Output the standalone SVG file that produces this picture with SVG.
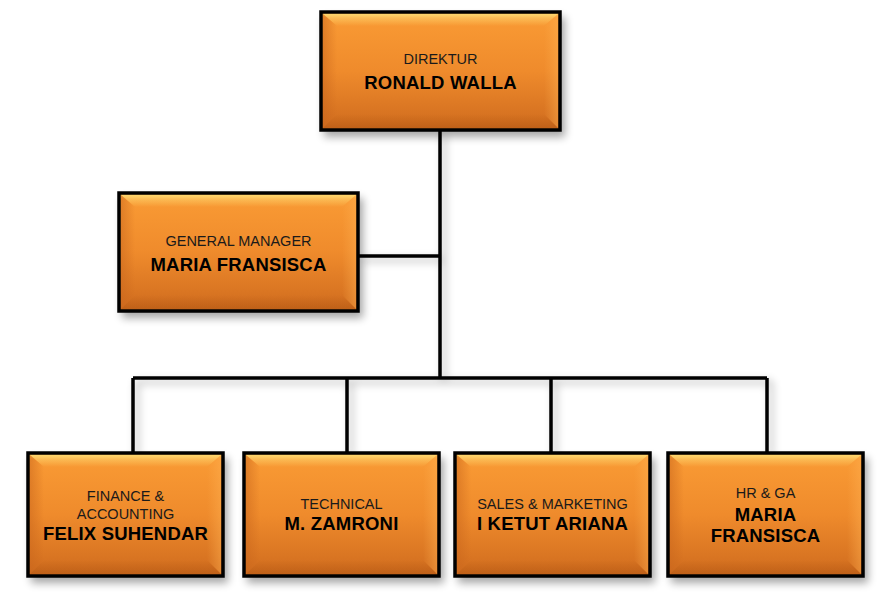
<svg xmlns="http://www.w3.org/2000/svg" width="887" height="601" viewBox="0 0 887 601">
<defs>
<linearGradient id="fill" x1="0" y1="0" x2="0" y2="1">
<stop offset="0" stop-color="#fdc85a"/>
<stop offset="0.05" stop-color="#f99a34"/>
<stop offset="0.5" stop-color="#ef8b2c"/>
<stop offset="1" stop-color="#cf6b1e"/>
</linearGradient>
<linearGradient id="gl" x1="0" y1="0" x2="1" y2="0">
<stop offset="0" stop-color="#c8651c" stop-opacity="0.5"/>
<stop offset="1" stop-color="#c8651c" stop-opacity="0"/>
</linearGradient>
<linearGradient id="gr" x1="1" y1="0" x2="0" y2="0">
<stop offset="0" stop-color="#ffb050" stop-opacity="0.45"/>
<stop offset="1" stop-color="#ffb050" stop-opacity="0"/>
</linearGradient>
<linearGradient id="gt" x1="0" y1="0" x2="0" y2="1">
<stop offset="0" stop-color="#ffe27a" stop-opacity="0.7"/>
<stop offset="1" stop-color="#ffe27a" stop-opacity="0"/>
</linearGradient>
<linearGradient id="gb" x1="0" y1="1" x2="0" y2="0">
<stop offset="0" stop-color="#a8500f" stop-opacity="0.4"/>
<stop offset="1" stop-color="#a8500f" stop-opacity="0"/>
</linearGradient>
<filter id="sh" x="-10%" y="-10%" width="125%" height="135%">
<feGaussianBlur stdDeviation="4"/>
</filter>
<style>
.box{fill:url(#fill);stroke:#000;stroke-width:3.5}
.shadow{fill:#000;opacity:0.35;filter:url(#sh)}
.bev-top{fill:url(#gt)}
.bev-l{fill:url(#gl)}
.bev-r{fill:url(#gr)}
.bev-b{fill:url(#gb)}
.lbl{font-family:"Liberation Sans","DejaVu Sans",sans-serif;font-size:14.5px;fill:#1a1a1a;text-anchor:middle}
.nm{font-family:"Liberation Sans","DejaVu Sans",sans-serif;font-size:18.5px;font-weight:bold;fill:#000;text-anchor:middle;letter-spacing:0.2px}
.ln{fill:none;stroke:#000;stroke-width:3.5}
.lnsh{fill:none;stroke:#000;stroke-width:4;opacity:0.25;filter:url(#sh)}
</style>
</defs>
<rect width="887" height="601" fill="#fff"/>

<g id="connectors">
<path class="lnsh" d="M444 136V382M363 260H444M137 382H771M137 382V456M351 382V456M555 382V456M771 382V456"/>
<path class="ln" d="M440 131V378M359 256H440M133 378H767M133 378V452M347 378V452M551 378V452M767 378V452"/>
</g>

<g id="direktur">
<rect class="shadow" x="324" y="17" width="241" height="120"/>
<rect class="box" x="321" y="12" width="239" height="118"/>
<polygon class="bev-top" points="323,14 558,14 544,26 337,26"/>
<polygon class="bev-l" points="323,14 337,26 337,114 323,128"/>
<polygon class="bev-r" points="558,14 544,26 544,114 558,128"/>
<polygon class="bev-b" points="323,128 337,114 544,114 558,128"/>
<text class="lbl" x="440.5" y="64">DIREKTUR</text>
<text class="nm" x="440.5" y="89">RONALD WALLA</text>
</g>

<g id="gm">
<rect class="shadow" x="122" y="198" width="241" height="120"/>
<rect class="box" x="119" y="193" width="239" height="118"/>
<polygon class="bev-top" points="121,195 356,195 342,207 135,207"/>
<polygon class="bev-l" points="121,195 135,207 135,295 121,309"/>
<polygon class="bev-r" points="356,195 342,207 342,295 356,309"/>
<polygon class="bev-b" points="121,309 135,295 342,295 356,309"/>
<text class="lbl" x="238.5" y="246">GENERAL MANAGER</text>
<text class="nm" x="238.5" y="271">MARIA FRANSISCA</text>
</g>

<g id="finance">
<rect class="shadow" x="31" y="458" width="197" height="125"/>
<rect class="box" x="28" y="453" width="195" height="123"/>
<polygon class="bev-top" points="30,455 221,455 207,467 44,467"/>
<polygon class="bev-l" points="30,455 44,467 44,560 30,574"/>
<polygon class="bev-r" points="221,455 207,467 207,560 221,574"/>
<polygon class="bev-b" points="30,574 44,560 207,560 221,574"/>
<text class="lbl" x="125.5" y="501">FINANCE &amp;</text>
<text class="lbl" x="125.5" y="519">ACCOUNTING</text>
<text class="nm" x="125.5" y="540">FELIX SUHENDAR</text>
</g>

<g id="technical">
<rect class="shadow" x="247" y="458" width="197" height="125"/>
<rect class="box" x="244" y="453" width="195" height="123"/>
<polygon class="bev-top" points="246,455 437,455 423,467 260,467"/>
<polygon class="bev-l" points="246,455 260,467 260,560 246,574"/>
<polygon class="bev-r" points="437,455 423,467 423,560 437,574"/>
<polygon class="bev-b" points="246,574 260,560 423,560 437,574"/>
<text class="lbl" x="341.5" y="509">TECHNICAL</text>
<text class="nm" x="341.5" y="530">M. ZAMRONI</text>
</g>

<g id="sales">
<rect class="shadow" x="458" y="458" width="197" height="125"/>
<rect class="box" x="455" y="453" width="195" height="123"/>
<polygon class="bev-top" points="457,455 648,455 634,467 471,467"/>
<polygon class="bev-l" points="457,455 471,467 471,560 457,574"/>
<polygon class="bev-r" points="648,455 634,467 634,560 648,574"/>
<polygon class="bev-b" points="457,574 471,560 634,560 648,574"/>
<text class="lbl" x="552.5" y="509">SALES &amp; MARKETING</text>
<text class="nm" x="552.5" y="530">I KETUT ARIANA</text>
</g>

<g id="hrga">
<rect class="shadow" x="671" y="458" width="197" height="125"/>
<rect class="box" x="668" y="453" width="195" height="123"/>
<polygon class="bev-top" points="670,455 861,455 847,467 684,467"/>
<polygon class="bev-l" points="670,455 684,467 684,560 670,574"/>
<polygon class="bev-r" points="861,455 847,467 847,560 861,574"/>
<polygon class="bev-b" points="670,574 684,560 847,560 861,574"/>
<text class="lbl" x="765.5" y="498">HR &amp; GA</text>
<text class="nm" x="765.5" y="521">MARIA</text>
<text class="nm" x="765.5" y="542">FRANSISCA</text>
</g>
</svg>
